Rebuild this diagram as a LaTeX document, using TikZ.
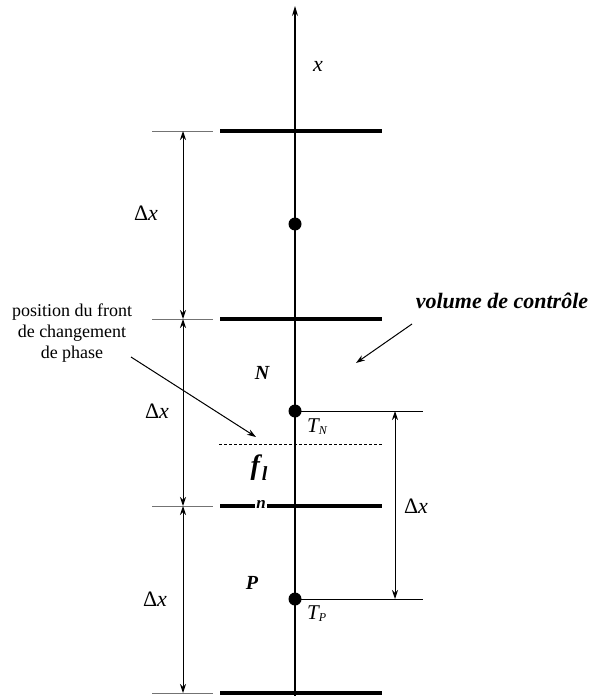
\documentclass[tikz,border=0pt]{standalone}
\usepackage{fontspec}
\setmainfont{Liberation Serif}
\usetikzlibrary{arrows.meta}
\begin{document}
\begin{tikzpicture}[x=1pt,y=-1pt,
  axisline/.style={line width=1.1pt},
  face/.style={line width=3.6pt},
  guide/.style={line width=1pt, black!55},
  thinline/.style={line width=1pt},
  dim/.style={line width=1pt,{Stealth[length=9pt,width=6pt]}-{Stealth[length=9pt,width=6pt]}},
  ptr/.style={line width=1pt,-{Stealth[length=9pt,width=6pt]}},
  dot/.style={circle,fill,inner sep=0pt,minimum size=13pt},
  lbl/.style={inner sep=0pt, font=\fontsize{22}{26}\selectfont},
  blbl/.style={inner sep=0pt, font=\fontsize{20}{24}\selectfont\bfseries\itshape},
  small/.style={inner sep=0pt, font=\fontsize{18}{21}\selectfont, align=center}
]
\useasboundingbox (0,0) rectangle (600,696);

% axis
\coordinate (axB) at (295,700);
\coordinate (axT) at (295,6);
\draw[axisline,-{Stealth[length=10pt,width=6pt]}] (axB) -- (axT);
\node[lbl] (xl) at (318,66) {\itshape x};

% faces, guides and dimension points
\foreach \i/\y in {1/131,2/319,3/506,4/693}{
  \coordinate (fL\i) at (220,\y);
  \coordinate (fR\i) at (382,\y);
  \coordinate (gL\i) at (152,\y);
  \coordinate (gR\i) at (213,\y);
  \coordinate (d\i) at (183,\y);
}
\node[inner sep=1.5pt, font=\fontsize{17}{19}\selectfont\bfseries\itshape] (n) at (261,504) {n};
\draw[face] (fL1) -- (fR1);
\draw[face] (fL2) -- (fR2);
\draw[face] (fL3) -- (n.west |- fL3);
\draw[face] (n.east |- fR3) -- (fR3);
\draw[face] (fL4) -- (fR4);
\foreach \i in {1,2,3,4}{\draw[guide] (gL\i) -- (gR\i);}
\draw[dim] (d1) -- (d2);
\draw[dim] (d2) -- (d3);
\draw[dim] (d3) -- (d4);

\node[lbl] (dx1) at (146,213) {Δ\textit{x}};
\node[lbl] (dx2) at (157,411) {Δ\textit{x}};
\node[lbl] (dx3) at (155,599) {Δ\textit{x}};

% nodal points
\node[dot] (dT) at (295,224) {};
\node[dot] (dN) at (295,411) {};
\node[dot] (dP) at (295,599) {};
\coordinate (rN) at (423,411);
\coordinate (rP) at (423,599);
\draw[thinline] (dN.center) -- (rN);
\draw[thinline] (dP.center) -- (rP);
\coordinate (rdN) at (395,411);
\coordinate (rdP) at (395,599);
\draw[dim] (rdN) -- (rdP);
\node[lbl] (dx4) at (416,506) {Δ\textit{x}};

\node[blbl] (N) at (262,373) {N};
\node[blbl] (P) at (252,583) {P};
\node[inner sep=0pt, anchor=west] (TN) at (307,427) {\fontsize{21}{24}\selectfont\itshape T\raisebox{-2pt}{\fontsize{12}{14}\selectfont N}};
\node[inner sep=0pt, anchor=west] (TP) at (307,614) {\fontsize{21}{24}\selectfont\itshape T\raisebox{-2pt}{\fontsize{12}{14}\selectfont P}};

% front
\coordinate (fr1) at (219,444);
\coordinate (fr2) at (383,444);
\draw[line width=0.8pt, dash pattern=on 3pt off 2pt] (fr1) -- (fr2);
\node[inner sep=0pt] (fl) at (259,468) {\fontsize{28}{32}\selectfont\bfseries\itshape f\kern2pt\raisebox{-6pt}{\fontsize{20}{22}\selectfont l}};

% annotations
\node[small] (pos) at (72,333) {position du front\\de changement\\de phase};
\coordinate (p1) at (131,357);
\coordinate (p2) at (256,437);
\draw[ptr] (p1) -- (p2);

\node[inner sep=0pt, font=\fontsize{22}{26}\selectfont\bfseries\itshape] (vol) at (502,301) {volume de contrôle};
\coordinate (v1) at (412,324);
\coordinate (v2) at (356,363);
\draw[ptr] (v1) -- (v2);
\end{tikzpicture}
\end{document}
